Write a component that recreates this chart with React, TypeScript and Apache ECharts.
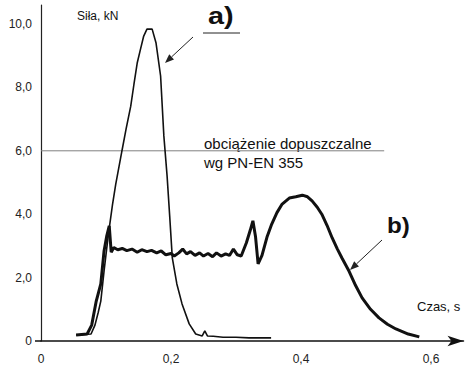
import React, { useEffect, useRef } from "react";
import * as echarts from "echarts";

// Curve a) – thin line (time s, force kN)
const timeA = [0.054, 0.077, 0.083, 0.088, 0.092, 0.097, 0.101, 0.105, 0.11, 0.115, 0.12, 0.125, 0.131, 0.138, 0.143, 0.148, 0.153, 0.158, 0.163, 0.171, 0.177, 0.184, 0.189, 0.194, 0.198, 0.202, 0.209, 0.217, 0.228, 0.238, 0.248, 0.252, 0.256, 0.265, 0.28, 0.3, 0.32, 0.354];
const forceA = [0.19, 0.22, 0.5, 0.9, 1.26, 2.2, 2.9, 3.56, 4.3, 4.95, 5.5, 6.05, 6.7, 7.4, 8.1, 8.77, 9.2, 9.62, 9.84, 9.84, 9.4, 8.36, 6.47, 5.2, 3.94, 2.62, 1.8, 1.17, 0.54, 0.22, 0.16, 0.32, 0.16, 0.15, 0.12, 0.12, 0.1, 0.1];

// Curve b) – thick line
const timeB = [0.054, 0.071, 0.078, 0.085, 0.092, 0.097, 0.101, 0.105, 0.108, 0.112, 0.118, 0.125, 0.132, 0.14, 0.148, 0.155, 0.163, 0.17, 0.178, 0.185, 0.192, 0.2, 0.205, 0.212, 0.218, 0.224, 0.23, 0.237, 0.244, 0.25, 0.257, 0.264, 0.27, 0.277, 0.284, 0.29, 0.296, 0.302, 0.308, 0.316, 0.322, 0.326, 0.33, 0.334, 0.34, 0.348, 0.355, 0.363, 0.371, 0.382, 0.392, 0.402, 0.41, 0.417, 0.425, 0.432, 0.44, 0.448, 0.456, 0.463, 0.474, 0.484, 0.494, 0.507, 0.52, 0.533, 0.546, 0.565, 0.582];
const forceB = [0.19, 0.22, 0.5, 1.26, 1.8, 2.84, 3.3, 3.63, 2.8, 2.95, 2.88, 2.92, 2.85, 2.9, 2.8, 2.88, 2.82, 2.86, 2.78, 2.84, 2.72, 2.76, 2.68, 2.78, 2.9, 2.75, 2.82, 2.7, 2.78, 2.68, 2.76, 2.66, 2.78, 2.68, 2.75, 2.7, 2.9, 2.72, 2.68, 3.1, 3.5, 3.79, 3.3, 2.43, 2.7, 3.3, 3.69, 4.05, 4.32, 4.51, 4.55, 4.6, 4.55, 4.42, 4.22, 4.0, 3.65, 3.25, 2.9, 2.62, 2.2, 1.75, 1.36, 1.0, 0.73, 0.53, 0.38, 0.22, 0.13];

// Permissible load line
const limitTime = [0, 0.528];
const limitForce = [6, 6];

const xTicks = [0, 0.2, 0.4, 0.6];
const yTicks = [0, 2, 4, 6, 8, 10];

const FONT = "'Liberation Sans', Arial, sans-serif";

function arrow(x1: number, y1: number, x2: number, y2: number) {
  const dx = x2 - x1;
  const dy = y2 - y1;
  const len = Math.sqrt(dx * dx + dy * dy);
  const ux = dx / len;
  const uy = dy / len;
  const L = 9;
  const W = 3.5;
  const bx = x2 - ux * L;
  const by = y2 - uy * L;
  const px = -uy * W;
  const py = ux * W;
  return [
    { type: "line", shape: { x1, y1, x2: bx, y2: by }, style: { stroke: "#222", lineWidth: 1 } },
    {
      type: "polygon",
      shape: { points: [[x2, y2], [bx + px, by + py], [bx - px, by - py]] },
      style: { fill: "#222" },
    },
  ];
}

export default function App() {
  const ref = useRef<HTMLDivElement>(null);
  useEffect(() => {
    if (!ref.current) return;
    const chart = echarts.init(ref.current, undefined, { renderer: "svg" });
    const isTick = (v: number, arr: number[]) => arr.some((t) => Math.abs(t - v) < 1e-6);
    chart.setOption({
      animation: false,
      backgroundColor: "#fff",
      grid: { left: 41, right: 8.5, top: 5, bottom: 33, containLabel: false },
      xAxis: {
        type: "value",
        min: 0,
        max: 0.65,
        interval: 0.2,
        splitLine: { show: false },
        axisTick: { show: false },
        axisLine: {
          show: true,
          lineStyle: { color: "#111", width: 1.5 },
          symbol: ["none", "arrow"],
          symbolSize: [8, 16],
        },
        axisLabel: {
          margin: 12,
          fontFamily: FONT,
          fontSize: 12,
          color: "#222",
          showMaxLabel: false,
          formatter: (v: number) =>
            isTick(v, xTicks) ? (v === 0 ? "0" : v.toFixed(1).replace(".", ",")) : "",
        },
      },
      yAxis: {
        type: "value",
        min: 0,
        max: 10.6,
        interval: 2,
        splitLine: { show: false },
        axisTick: { show: false },
        axisLine: { show: true, lineStyle: { color: "#222", width: 1.2 } },
        axisLabel: {
          margin: 9,
          fontFamily: FONT,
          fontSize: 12,
          color: "#222",
          showMaxLabel: false,
          formatter: (v: number) =>
            isTick(v, yTicks) ? (v === 0 ? "0" : v.toFixed(1).replace(".", ",")) : "",
        },
      },
      series: [
        {
          type: "line",
          data: limitTime.map((t, i) => [t, limitForce[i]]),
          showSymbol: false,
          silent: true,
          lineStyle: { color: "#808080", width: 1 },
        },
        {
          type: "line",
          data: timeA.map((t, i) => [t, forceA[i]]),
          showSymbol: false,
          lineStyle: { color: "#111", width: 1.6 },
        },
        {
          type: "line",
          data: timeB.map((t, i) => [t, forceB[i]]),
          showSymbol: false,
          lineStyle: { color: "#111", width: 3 },
        },
      ],
      graphic: [
        { type: "line", shape: { x1: 35, y1: 341, x2: 41, y2: 341 }, style: { stroke: "#111", lineWidth: 1.5 } },
        {
          type: "text",
          left: 77,
          top: 10,
          style: { text: "Siła, kN", font: `12px ${FONT}`, fill: "#111" },
        },
        {
          type: "text",
          x: 208,
          y: 16,
          scaleX: 1.2,
          style: { text: "a)", font: `bold 24px ${FONT}`, fill: "#111", verticalAlign: "middle" },
        },
        { type: "line", shape: { x1: 203, y1: 33, x2: 240, y2: 33 }, style: { stroke: "#222", lineWidth: 1 } },
        ...arrow(193, 37, 165, 63),
        {
          type: "text",
          x: 204,
          y: 143,
          style: { text: "obciążenie dopuszczalne", font: `15px ${FONT}`, fill: "#111", verticalAlign: "middle" },
        },
        {
          type: "text",
          x: 204,
          y: 162,
          style: { text: "wg PN-EN 355", font: `15px ${FONT}`, fill: "#111", verticalAlign: "middle" },
        },
        {
          type: "text",
          x: 387,
          y: 225,
          scaleX: 1.1,
          style: { text: "b)", font: `bold 22px ${FONT}`, fill: "#111", verticalAlign: "middle" },
        },
        ...arrow(382, 240, 350, 270),
        {
          type: "text",
          x: 417,
          y: 306,
          style: { text: "Czas, s", font: `13px ${FONT}`, fill: "#111", verticalAlign: "middle" },
        },
      ],
    });
    return () => chart.dispose();
  }, []);
  return <div ref={ref} style={{ width: 472, height: 374, position: "fixed", left: 0, top: 0 }} />;
}
